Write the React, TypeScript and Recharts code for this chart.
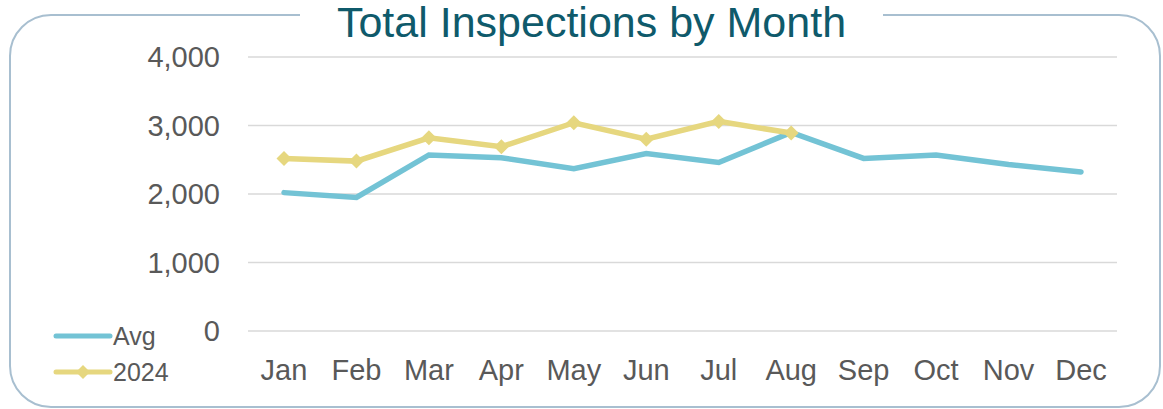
import React from 'react';
import {
  LineChart,
  Line,
  XAxis,
  YAxis,
  CartesianGrid
} from 'recharts';

const months = ['Jan', 'Feb', 'Mar', 'Apr', 'May', 'Jun', 'Jul', 'Aug', 'Sep', 'Oct', 'Nov', 'Dec'];
const avgValues = [2020, 1950, 2570, 2530, 2370, 2590, 2460, 2900, 2520, 2570, 2430, 2320];
const values2024 = [2520, 2480, 2820, 2690, 3040, 2800, 3060, 2890];
const yTicks = [0, 1000, 2000, 3000, 4000];

const AVG_COLOR = '#73c3d5';
const Y2024_COLOR = '#e6d77f';
const TEXT_COLOR = '#595959';
const FONT = '"Liberation Sans", Arial, sans-serif';

const data = months.map((m, i) => ({
  month: m,
  avg: avgValues[i],
  y2024: i < values2024.length ? values2024[i] : null
}));

const Diamond = (props: any) => {
  const { cx, cy } = props;
  if (cx == null || cy == null) return null;
  const r = 7.5;
  return (
    <path
      d={`M${cx},${cy - r}L${cx + r},${cy}L${cx},${cy + r}L${cx - r},${cy}Z`}
      fill={Y2024_COLOR}
    />
  );
};

const LegendBox = () => (
  <div style={{ fontFamily: FONT, fontSize: 25, color: TEXT_COLOR }}>
    <div style={{ display: 'flex', alignItems: 'center', height: 36 }}>
      <svg width={60} height={12}>
        <line x1={3} y1={6} x2={57} y2={6} stroke={AVG_COLOR} strokeWidth={5} strokeLinecap="round" />
      </svg>
      <span>Avg</span>
    </div>
    <div style={{ display: 'flex', alignItems: 'center', height: 36 }}>
      <svg width={60} height={18}>
        <line x1={3} y1={9} x2={57} y2={9} stroke={Y2024_COLOR} strokeWidth={5} strokeLinecap="round" />
        <path d="M30,2L37,9L30,16L23,9Z" fill={Y2024_COLOR} />
      </svg>
      <span>2024</span>
    </div>
  </div>
);

const App = () => {
  return (
    <div style={{ position: 'fixed', left: 0, top: 0, width: 1163, height: 409, background: '#fff', overflow: 'hidden' }}>
      <div
        style={{
          position: 'absolute',
          left: 9,
          top: 14,
          width: 1148,
          height: 390,
          border: '2.5px solid #a8bfd0',
          borderRadius: 42
        }}
      />
      <div
        style={{
          position: 'absolute',
          left: 300,
          top: 0,
          width: 583,
          height: 44,
          background: '#fff',
          textAlign: 'center',
          fontFamily: FONT,
          fontSize: 43,
          lineHeight: '44px',
          color: '#0f5a6b'
        }}
      >
        Total Inspections by Month
      </div>
      <div style={{ position: 'absolute', left: 0, top: 0 }}>
        <LineChart width={1163} height={409} data={data} margin={{ top: 57, right: 46, left: 0, bottom: 38 }}>
          <CartesianGrid vertical={false} stroke="#d9d9d9" strokeWidth={1.5} />
          <XAxis
            dataKey="month"
            axisLine={false}
            tickLine={false}
            height={40}
            tickMargin={22}
            padding={{ left: 36, right: 36 }}
            tick={{ fill: TEXT_COLOR, fontSize: 29, fontFamily: FONT }}
          />
          <YAxis
            width={248}
            domain={[0, 4000]}
            ticks={yTicks}
            axisLine={false}
            tickLine={false}
            tickMargin={22}
            tickFormatter={(v: number) => v.toLocaleString('en-US')}
            tick={{ fill: TEXT_COLOR, fontSize: 29, fontFamily: FONT }}
          />
          <Line
            type="linear"
            dataKey="avg"
            name="Avg"
            stroke={AVG_COLOR}
            strokeWidth={5.5}
            dot={false}
            strokeLinecap="round"
            isAnimationActive={false}
          />
          <Line
            type="linear"
            dataKey="y2024"
            name="2024"
            stroke={Y2024_COLOR}
            strokeWidth={5.5}
            dot={<Diamond />}
            activeDot={false}
            isAnimationActive={false}
          />
        </LineChart>
      </div>
      <div style={{ position: 'absolute', left: 53, top: 318 }}>
        <LegendBox />
      </div>
    </div>
  );
};

export default App;
